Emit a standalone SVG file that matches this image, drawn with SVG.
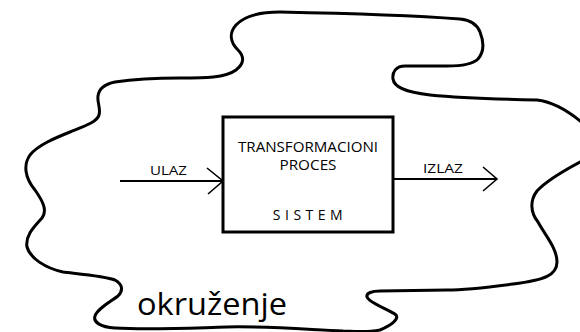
<svg xmlns="http://www.w3.org/2000/svg" width="580" height="332" viewBox="0 0 580 332">
<defs>
<style>
.blob{fill:none;stroke:#000;stroke-width:3;stroke-linejoin:round;stroke-linecap:round}
.box{fill:#fff;stroke:#000;stroke-width:3}
.line{fill:none;stroke:#000;stroke-width:2}
.head{fill:none;stroke:#000;stroke-width:1.6;stroke-linejoin:miter}
.t{font-family:"Open Sans","Lato","DejaVu Sans",sans-serif;fill:#000}
.lbl{font-size:13.5px}
.inbox{font-size:14px}
.env{font-size:31px}
</style>
</defs>
<rect width="580" height="332" fill="#fff"/>
<g id="okruzenje">
<path class="blob" d="M180,78 C205,78 225,78 236,70 C245,63 244,56 238,50 C230,42 229,33 236,25 C245,15 260,12 280,12 C330,13 420,16 460,19 C470,20 477,24 480,32 C484,42 484,52 478,59 C472,65 460,66 447,66 L405,66 C396,66 392,72 393,79 C394,87 405,92 430,95 C450,97 490,99 537,100 C555,102 570,112 585,125 C600,140 595,155 580,162 C565,170 545,182 537,191 C530,200 530,212 538,222 C545,235 557,248 557,262 C557,275 545,280 513,284 C490,287 460,290 447,290 L380,291 C372,291 366,293 367,297 C369,303 390,310 396,315 C399,319 392,325 380,330 C365,333 350,331 343,331 C300,329 260,326 227,327 C190,328 150,330 115,328 C100,327 93,322 95,316 C97,309 110,302 118,296 C124,290 122,284 115,280 C105,276 80,274 63,272 C45,268 30,258 27,247 C25,235 35,226 42,218 C48,210 42,200 35,190 C25,178 23,165 30,155 C38,145 55,138 70,132 C85,126 97,122 99,115 C101,108 97,103 98,96 C99,88 105,84 115,82 C135,79 160,78 180,78 Z"/>
<text class="t env" x="137" y="315" textLength="150" lengthAdjust="spacingAndGlyphs">okruženje</text>
</g>
<g id="sistem">
<rect class="box" x="223" y="117" width="170" height="115"/>
<text class="t inbox" x="308" y="152" text-anchor="middle" textLength="140" lengthAdjust="spacingAndGlyphs">TRANSFORMACIONI</text>
<text class="t inbox" x="308" y="170" text-anchor="middle" textLength="57" lengthAdjust="spacingAndGlyphs">PROCES</text>
<text class="t inbox" x="310" y="220" text-anchor="middle" letter-spacing="4.5">SISTEM</text>
</g>
<g id="connectors">
<g id="ulaz">
<line class="line" x1="120" y1="181" x2="223" y2="181"/>
<polyline class="head" points="207,168 223,181 208,194"/>
<text class="t lbl" x="150" y="175" textLength="37" lengthAdjust="spacingAndGlyphs">ULAZ</text>
</g>
<g id="izlaz">
<line class="line" x1="393" y1="179" x2="497" y2="179"/>
<polyline class="head" points="483,167 497,179 483,191"/>
<text class="t lbl" x="423" y="173" textLength="40" lengthAdjust="spacingAndGlyphs">IZLAZ</text>
</g>
</g>
</svg>
